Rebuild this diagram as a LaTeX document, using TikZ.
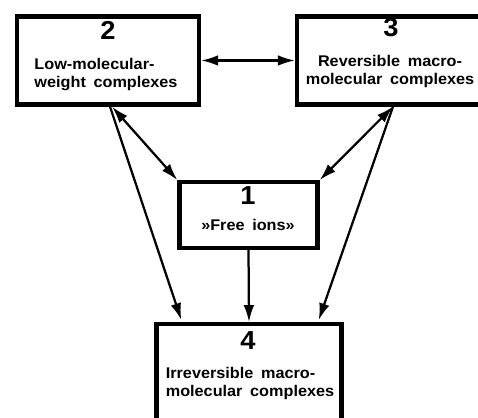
\documentclass[tikz,border=0pt]{standalone}
\usepackage{fontspec}
\setmainfont{Liberation Sans}[FakeStretch=1.05,WordSpace=1.7]
\usetikzlibrary{arrows.meta}

\begin{document}
\begin{tikzpicture}[x=0.025cm,y=-0.025cm,>={Latex[length=12pt,width=7.5pt]},
	box/.style = {draw,line width=3pt,rectangle,inner sep=0pt},
	num/.style = {font=\fontsize{18.5}{18}\selectfont\bfseries,inner sep=0pt},
	txt/.style = {font=\fontsize{11}{12.8}\selectfont\bfseries,align=left,inner sep=0pt},
	link/.style = {line width=1.6pt}
	]
	\useasboundingbox (0,0) rectangle (478,418);
	\clip (0,0) rectangle (478,418);
	%BOXES
	\node[box,minimum width=4.55cm,minimum height=2.2cm] (@2) at (108,60.5) {};
	\node[box,minimum width=4.65cm,minimum height=2.2cm] (@3) at (390,60.5) {};
	\node[box,minimum width=3.45cm,minimum height=1.64cm] (@1) at (248.5,215) {};
	\node[box,minimum width=4.62cm,minimum height=2.54cm] (@4) at (249,375) {};
	%NUMBERS
	\node[num] (@2n) at (108,30) {2};
	\node[num] (@3n) at (391,28) {3};
	\node[num] (@1n) at (248,196) {1};
	\node[num] (@4n) at (248,341) {4};
	%TEXTS
	\node[txt] (@2t) at (106,74.5) {Low-molecular-\\weight complexes};
	\node[txt,align=center] (@3t) at (390,72) {Reversible macro-\\molecular complexes};
	\node[txt] (@1t) at (248,225) {»Free ions»};
	\node[txt] (@4t) at (250,383) {Irreversible macro-\\molecular complexes};
	%ARROWS
	\draw[link,<->] (@2.east) -- (@3.west);
	\draw[link,<->] ([xshift=0.1cm]@2.south) -- (@1.north west);
	\draw[link,<->] ([xshift=0.075cm]@3.south) -- (@1.north east);
	\draw[link,->,shorten >=1.5pt] ([xshift=0.05cm]@2.south) -- ([xshift=-1.675cm]@4.north);
	\draw[link,->,shorten >=1.5pt] ([xshift=0.075cm]@3.south) -- ([xshift=1.725cm]@4.north);
	\draw[link,->] (@1.south) -- (@4.north);
\end{tikzpicture}
\end{document}
